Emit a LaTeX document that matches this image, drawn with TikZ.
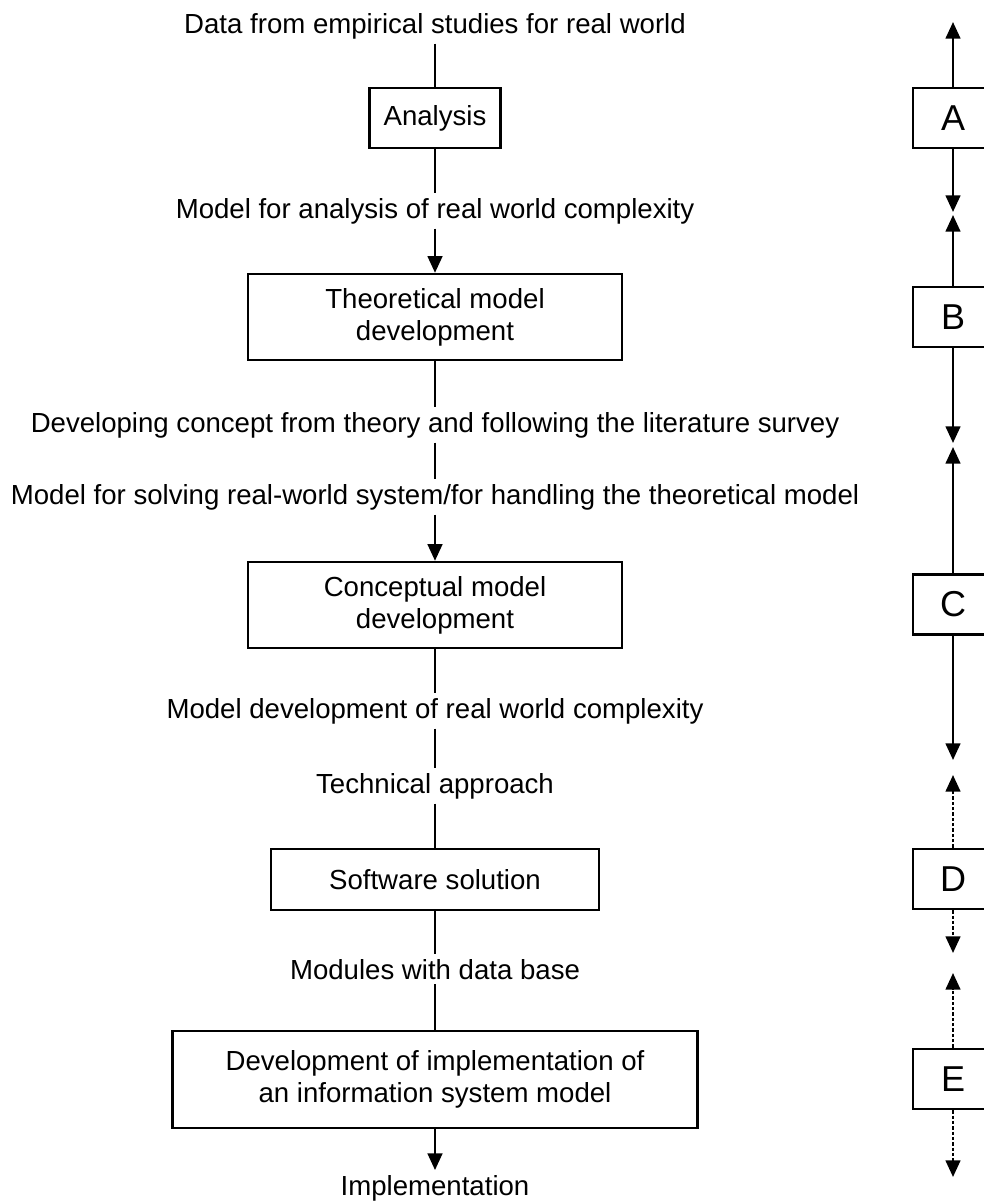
\documentclass[tikz,border=0pt]{standalone}
\usepackage{fontspec}
\setmainfont{Liberation Sans}
\usetikzlibrary{arrows.meta}

\begin{document}
\begin{tikzpicture}[x=0.75pt,y=0.75pt,yscale=-1,xscale=1,
		lbl/.style={inner sep=3.5pt,anchor=base,font=\fontsize{20.7}{24}\selectfont},
		stagebox/.style={draw,line width=1.8pt,inner sep=0pt,align=center,font=\fontsize{20.7}{24}\selectfont},
		phasebox/.style={draw,line width=1.8pt,minimum width=60pt,minimum height=45pt,inner sep=0pt,font=\fontsize{27}{30}\selectfont},
		flow/.style={line width=1.8pt},
		arr/.style={flow,-{Triangle[length=12.5pt,width=11pt]}},
		dots/.style={dash pattern=on 2.5pt off 1.5pt}]
			%set diagram left start at 0, and has height of 1203
			\useasboundingbox (0,0) rectangle (984,1203);
			\clip (0,0) rectangle (984,1203);

			% Text Node
			\draw (435,33) node [lbl] (data) {Data from empirical studies for real world};
			% Text Node
			\draw (435,218) node [lbl] (anmodel) {Model for analysis of real world complexity};
			% Text Node
			\draw (435,432) node [lbl] (concept) {Developing concept from theory and following the literature survey};
			% Text Node
			\draw (435,504) node [lbl] (solving) {Model for solving real-world system/for handling the theoretical model};
			% Text Node
			\draw (435,718) node [lbl] (realdev) {Model development of real world complexity};
			% Text Node
			\draw (435,793) node [lbl] (technical) {Technical approach};
			% Text Node
			\draw (435,979) node [lbl] (modules) {Modules with data base};
			% Text Node
			\draw (435,1195) node [lbl] (impl) {Implementation};

			% Shape: Rectangle
			\draw (435,118) node [stagebox,minimum width=98pt,minimum height=45pt] (analysis) {Analysis};
			% Shape: Rectangle
			\draw (435,317) node [stagebox,minimum width=280.5pt,minimum height=64.5pt] (theory) {Theoretical model\\development};
			% Shape: Rectangle
			\draw (435,605) node [stagebox,minimum width=280.5pt,minimum height=64.5pt] (conceptual) {Conceptual model\\development};
			% Shape: Rectangle
			\draw (435,879.5) node [stagebox,minimum width=246pt,minimum height=45.75pt] (software) {Software solution};
			% Shape: Rectangle
			\draw (435,1079.5) node [stagebox,minimum width=393.75pt,minimum height=72.75pt] (infosys) {Development of implementation of\\an information system model};

			%Straight Lines
			\draw [flow] (data.south) -- (analysis.north);
			\draw [flow] (analysis.south) -- (anmodel.north);
			\draw [arr] (anmodel.south) -- (theory.north);
			\draw [flow] (theory.south) -- (concept.north);
			\draw [flow] (concept.south) -- (solving.north);
			\draw [arr] (solving.south) -- (conceptual.north);
			\draw [flow] (conceptual.south) -- (realdev.north);
			\draw [flow] (realdev.south) -- (technical.north);
			\draw [flow] (technical.south) -- (software.north);
			\draw [flow] (software.south) -- (modules.north);
			\draw [flow] (modules.south) -- (infosys.north);
			\draw [arr] (infosys.south) -- (impl.north);

			% Shape: Rectangle (phases, cut by the right edge)
			\draw (953,118) node [phasebox] (A) {A};
			\draw (953,317) node [phasebox] (B) {B};
			\draw (953,604.5) node [phasebox] (C) {C};
			\draw (953,879) node [phasebox] (D) {D};
			\draw (953,1079) node [phasebox] (E) {E};

			% free ends of the phase arrows
			\coordinate (Aup) at (953,22);
			\coordinate (Adown) at (953,212);
			\coordinate (Bup) at (953,215);
			\coordinate (Bdown) at (953,443);
			\coordinate (Cup) at (953,447);
			\coordinate (Cdown) at (953,760);
			\coordinate (Dup) at (953,775);
			\coordinate (Ddown) at (953,953);
			\coordinate (Eup) at (953,973);
			\coordinate (Edown) at (953,1177);

			%Straight Lines
			\draw [arr] (A.north) -- (Aup);
			\draw [arr] (A.south) -- (Adown);
			\draw [arr] (B.north) -- (Bup);
			\draw [arr] (B.south) -- (Bdown);
			\draw [arr] (C.north) -- (Cup);
			\draw [arr] (C.south) -- (Cdown);
			\draw [arr,dots] (D.north) -- (Dup);
			\draw [arr,dots] (D.south) -- (Ddown);
			\draw [arr,dots] (E.north) -- (Eup);
			\draw [arr,dots] (E.south) -- (Edown);
		\end{tikzpicture}
\end{document}
